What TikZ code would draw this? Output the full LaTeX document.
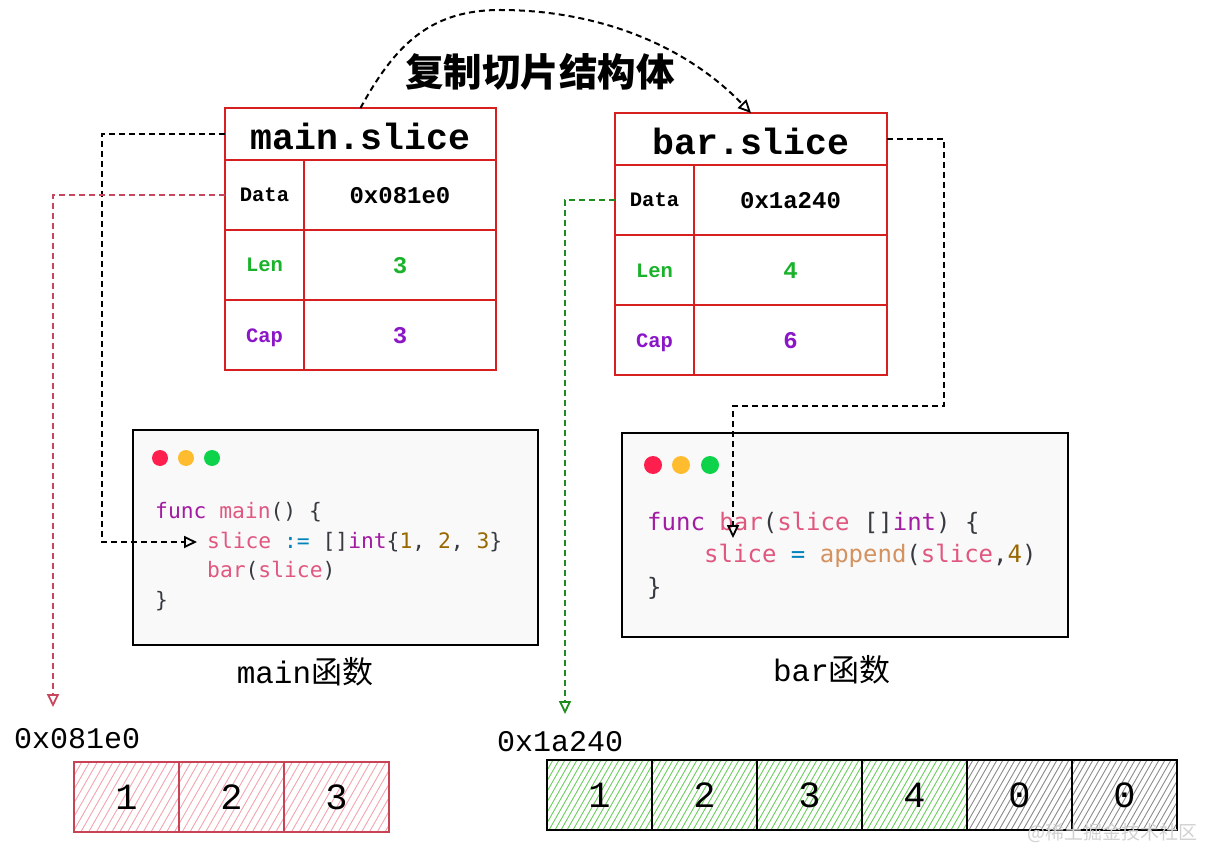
\documentclass[tikz,border=0pt]{standalone}
\usepackage{fontspec}
\usetikzlibrary{arrows.meta}
\newfontfamily\cjk{Noto Sans CJK SC}
\newfontfamily\lmono{Liberation Mono}
\newfontfamily\dmono{DejaVu Sans Mono}
\definecolor{tblred}{HTML}{D61F1F}
\definecolor{lengreen}{HTML}{19B22A}
\definecolor{cappurple}{HTML}{8B16C8}
\definecolor{arrred}{HTML}{C94357}
\definecolor{hatchr}{HTML}{F3A5AE}
\definecolor{hatchg}{HTML}{6CCF5F}
\definecolor{hatchk}{HTML}{8C8C8C}
\definecolor{codebg}{HTML}{F9F9F9}
\definecolor{ckw}{HTML}{A31AA3}
\definecolor{cvar}{HTML}{E0577F}
\definecolor{cnum}{HTML}{986801}
\definecolor{cop}{HTML}{0184BC}
\definecolor{cfn}{HTML}{D3925F}
\definecolor{cpun}{HTML}{383A42}
\definecolor{dotr}{HTML}{FF1F4F}
\definecolor{doto}{HTML}{FEBC2E}
\definecolor{dotg}{HTML}{0CD34A}
\definecolor{reddash}{HTML}{C8475E}
\definecolor{greendash}{HTML}{1E8C1E}
\newcommand{\kw}[1]{\textcolor{ckw}{#1}}
\newcommand{\vr}[1]{\textcolor{cvar}{#1}}
\newcommand{\nm}[1]{\textcolor{cnum}{#1}}
\newcommand{\opr}[1]{\textcolor{cop}{#1}}
\newcommand{\fnn}[1]{\textcolor{cfn}{#1}}
\newcommand{\pu}[1]{\textcolor{cpun}{#1}}
\begin{document}
\begin{tikzpicture}[x=1pt,y=-1pt,
  hdcell/.style={draw=tblred, line width=2pt, inner sep=0pt, outer sep=0pt,
    minimum height=52pt, text height=31pt, text depth=0pt,
    font=\lmono\bfseries\fontsize{36.5}{40}\selectfont},
  keycell/.style={draw=tblred, line width=2pt, inner sep=0pt, outer sep=0pt,
    minimum width=79pt, minimum height=70pt, text height=14pt, text depth=0pt,
    font=\lmono\bfseries\fontsize{20.5}{24}\selectfont},
  valcell/.style={draw=tblred, line width=2pt, inner sep=0pt, outer sep=0pt,
    minimum height=70pt, text height=16.5pt, text depth=0pt,
    font=\lmono\bfseries\fontsize{24}{28}\selectfont},
  codebox/.style={draw=black, line width=2pt, fill=codebg, inner sep=0pt, outer sep=0pt},
  dotc/.style={circle, inner sep=0pt, outer sep=0pt},
  codem/.style={anchor=base west, inner sep=0pt, font=\dmono\fontsize{21.3}{25}\selectfont},
  codeb/.style={anchor=base west, inner sep=0pt, font=\dmono\fontsize{24}{28}\selectfont},
  fnlabel/.style={anchor=base, inner sep=0pt, font=\fontsize{31}{34}\selectfont},
  addr/.style={anchor=base west, inner sep=0pt, font=\lmono\fontsize{30}{34}\selectfont},
  arrcellL/.style={draw=arrred, line width=2pt, minimum width=105pt, minimum height=70pt,
    inner sep=0pt, outer sep=0pt, text height=24pt, text depth=0pt,
    font=\lmono\fontsize{37}{40}\selectfont},
  arrcellR/.style={draw=black, line width=2.2pt, minimum width=105pt, minimum height=70pt,
    inner sep=0pt, outer sep=0pt, text height=24pt, text depth=0pt,
    font=\lmono\fontsize{37}{40}\selectfont},
  hr/.style={draw=hatchr, line width=0.9pt},
  hg/.style={draw=hatchg, line width=0.9pt},
  hk/.style={draw=hatchk, line width=0.9pt},
  arr/.style={-{Triangle[open,length=13pt,width=12pt,line width=1.8pt]}},
  blkdash/.style={draw=black, line width=2pt, dash pattern=on 6pt off 4pt},
  rdash/.style={draw=reddash, line width=2pt, dash pattern=on 6pt off 4pt},
  gdash/.style={draw=greendash, line width=2pt, dash pattern=on 6pt off 4pt}
]
\useasboundingbox (0,0) rectangle (1207,850);

% title
\node[font=\cjk\bfseries\fontsize{38.5}{42}\selectfont] (title) at (540,72) {复制切片结构体};

% main.slice table
\node[hdcell, minimum width=271pt] (mh) at (360.5,134) {main.slice};
\node[keycell] (mdk) at (264.5,195) {Data};
\node[valcell, minimum width=192pt] (mdv) at (400,195) {0x081e0};
\node[keycell, text=lengreen] (mlk) at (264.5,265) {Len};
\node[valcell, minimum width=192pt, text=lengreen] (mlv) at (400,265) {3};
\node[keycell, text=cappurple] (mck) at (264.5,335) {Cap};
\node[valcell, minimum width=192pt, text=cappurple] (mcv) at (400,335) {3};

% bar.slice table
\node[hdcell, minimum width=272pt] (bh) at (751,139) {bar.slice};
\node[keycell] (bdk) at (654.5,200) {Data};
\node[valcell, minimum width=193pt] (bdv) at (790.5,200) {0x1a240};
\node[keycell, text=lengreen] (blk) at (654.5,270) {Len};
\node[valcell, minimum width=193pt, text=lengreen] (blv) at (790.5,270) {4};
\node[keycell, text=cappurple] (bck) at (654.5,340) {Cap};
\node[valcell, minimum width=193pt, text=cappurple] (bcv) at (790.5,340) {6};

% main code box
\node[codebox, minimum width=405pt, minimum height=215pt] (mbox) at (335.5,537.5) {};
\node[dotc, fill=dotr, minimum size=16pt] (md1) at (160,458) {};
\node[dotc, fill=doto, minimum size=16pt] (md2) at (186,458) {};
\node[dotc, fill=dotg, minimum size=16pt] (md3) at (212,458) {};
\node[codem] (mc1) at (155,518) {\kw{func} \vr{main}\pu{() \{}};
\node[codem] (mc2) at (207,548) {\vr{slice} \opr{:=} \pu{[]}\kw{int}\pu{\{}\nm{1}\pu{, }\nm{2}\pu{, }\nm{3}\pu{\}}};
\node[codem] (mc3) at (207,577) {\vr{bar}\pu{(}\vr{slice}\pu{)}};
\node[codem] (mc4) at (155,607) {\pu{\}}};
\node[fnlabel] (mlab) at (305,683) {{\lmono main}{\cjk 函数}};

% bar code box
\node[codebox, minimum width=446pt, minimum height=204pt] (bbox) at (845,535) {};
\node[dotc, fill=dotr, minimum size=18pt] (bd1) at (653,465) {};
\node[dotc, fill=doto, minimum size=18pt] (bd2) at (681,465) {};
\node[dotc, fill=dotg, minimum size=18pt] (bd3) at (710,465) {};
\node[codeb] (bc1) at (647,530) {\kw{func} \vr{bar}\pu{(}\vr{slice} \pu{[]}\kw{int}\pu{) \{}};
\node[codeb] (bc2) at (704,562) {\vr{slice} \opr{=} \fnn{append}\pu{(}\vr{slice}\pu{,}\nm{4}\pu{)}};
\node[codeb] (bc3) at (647,595) {\pu{\}}};
\node[fnlabel] (blab) at (832,681) {{\lmono bar}{\cjk 函数}};

% addresses
\node[addr] (aL) at (14,748) {0x081e0};
\node[addr] (aR) at (497,751) {0x1a240};

% left array hatch
\begin{scope}
\clip (74,762) rectangle (389,832);
\foreach \i in {0,...,46} \draw[hr] ({34+7.8*\i},832) -- ++(40,-70);
\end{scope}
% right array hatch
\begin{scope}
\clip (547,760) rectangle (967,830);
\foreach \i in {0,...,78} \draw[hg] ({507+6*\i},830) -- ++(40,-70);
\end{scope}
\begin{scope}
\clip (967,760) rectangle (1177,830);
\foreach \i in {0,...,43} \draw[hk] ({927+6*\i},830) -- ++(40,-70);
\end{scope}

% left array cells
\node[arrcellL] (l1) at (126.5,797) {1};
\node[arrcellL] (l2) at (231.5,797) {2};
\node[arrcellL] (l3) at (336.5,797) {3};
% right array cells
\node[arrcellR] (r1) at (599.5,795) {1};
\node[arrcellR] (r2) at (704.5,795) {2};
\node[arrcellR] (r3) at (809.5,795) {3};
\node[arrcellR] (r4) at (914.5,795) {4};
\node[arrcellR] (r5) at (1019.5,795) {0};
\node[arrcellR] (r6) at (1124.5,795) {0};

% watermark
\node[text=black!18, font=\cjk\fontsize{19}{22}\selectfont, anchor=east] (wm) at (1201,833) {@稀土掘金技术社区};

% connectors
\coordinate (k1) at (102,542);
\coordinate (ma) at (197,542);
\draw[blkdash,arr] (mh.west) -| (k1) -- (ma);

\coordinate (ra) at (53,707);
\draw[rdash,arr] (mdk.west) -| (ra);

\coordinate (ga) at (565,714);
\draw[gdash,arr] (bdk.west) -| (ga);

\coordinate (b1) at (944,406);
\coordinate (bb) at (733,538);
\draw[blkdash,arr] (bh.east) -| (b1) -| (bb);

\coordinate (cpk) at (500,10);
\draw[blkdash,arr] (mh.north) .. controls (395,45) and (430,10) .. (cpk) .. controls (590,10) and (680,40) .. (bh.north);
\end{tikzpicture}
\end{document}
